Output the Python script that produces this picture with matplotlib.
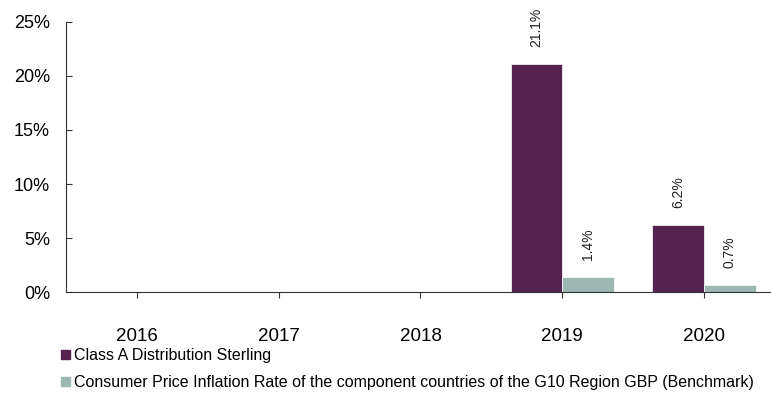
import numpy as np
import matplotlib.pyplot as plt
from matplotlib.patches import Patch
from matplotlib.ticker import FuncFormatter

plt.rcParams['font.family'] = ['Liberation Sans', 'DejaVu Sans']

# data
years = ['2016', '2017', '2018', '2019', '2020']
fund = [np.nan, np.nan, np.nan, 21.1, 6.2]
bench = [np.nan, np.nan, np.nan, 1.4, 0.7]
fund_name = 'Class A Distribution Sterling'
bench_name = 'Consumer Price Inflation Rate of the component countries of the G10 Region GBP (Benchmark)'

c_fund = '#55234F'
c_bench = '#9DB8B3'

fig = plt.figure(figsize=(7.71, 3.99), dpi=100)
ax = fig.add_axes([0.0856, 0.268, 0.914, 0.677])

x = np.arange(len(years))
w = 0.365
b1 = ax.bar(x - w / 2, fund, w, color=c_fund, edgecolor='white', linewidth=0.5)
b2 = ax.bar(x + w / 2, bench, w, color=c_bench, edgecolor='white', linewidth=0.5)

for bars, vals in ((b1, fund), (b2, bench)):
    for r, v in zip(bars, vals):
        if np.isnan(v):
            continue
        ax.annotate(f'{v:.1f}%', xy=(r.get_x() + r.get_width() / 2, v),
                    xytext=(0, 12), textcoords='offset points',
                    ha='center', va='bottom', rotation=90, fontsize=10,
                    color='#222222')

ax.set_xlim(-0.5, 4.47)
ax.set_ylim(0, 25)
ax.set_yticks([0, 5, 10, 15, 20, 25])
ax.yaxis.set_major_formatter(FuncFormatter(lambda v, p: f'{v:.0f}%'))
ax.set_xticks(x)
ax.set_xticklabels(years)

ax.spines['top'].set_visible(False)
ax.spines['right'].set_visible(False)
ax.spines['left'].set_color('#333333')
ax.spines['bottom'].set_color('#333333')
ax.tick_params(axis='y', direction='in', length=4, labelsize=13, pad=11.5,
               color='#333333')
ax.tick_params(axis='x', direction='out', length=4, labelsize=13.5, pad=22,
               color='#333333')

handles = [Patch(color=c_fund), Patch(color=c_bench)]
fig.legend(handles, [fund_name, bench_name], loc='upper left',
           bbox_to_anchor=(0.079, 0.127), frameon=False, fontsize=11.5,
           handlelength=0.55, handleheight=0.55, handletextpad=0.25,
           labelspacing=0.75, borderaxespad=0, borderpad=0)

fig.savefig('out.png', dpi=100, facecolor='white')
